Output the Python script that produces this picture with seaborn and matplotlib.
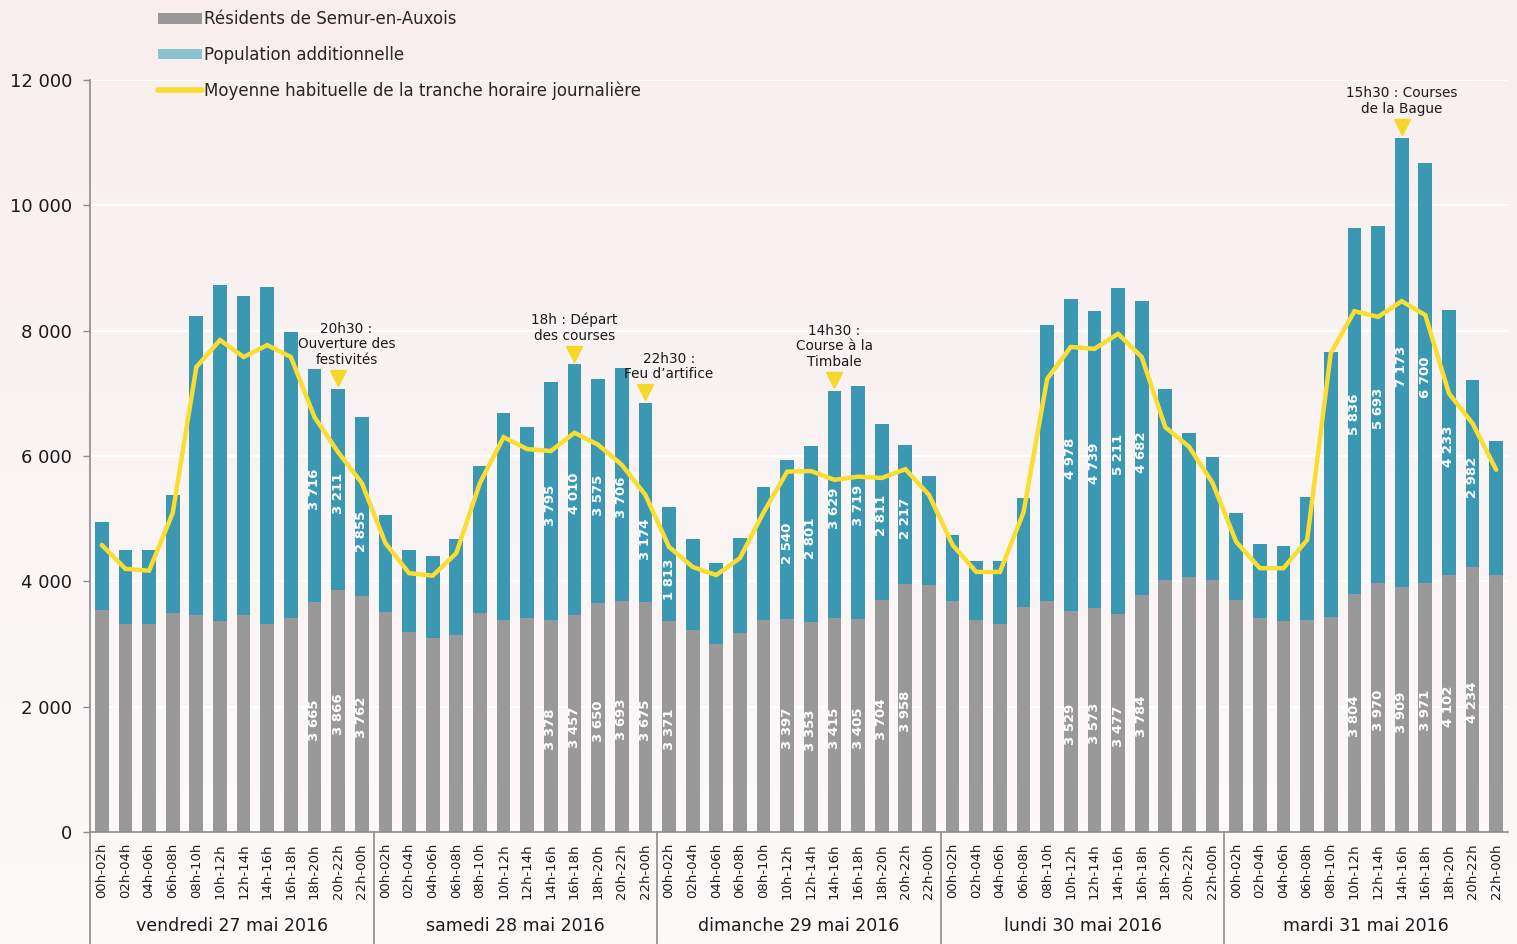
import numpy as np
import pandas as pd
import seaborn as sns
import matplotlib.pyplot as plt
import matplotlib.transforms as mtransforms
from matplotlib.patches import Patch
from matplotlib.lines import Line2D
from matplotlib.colors import LinearSegmentedColormap

# ---------------- data ----------------
days = ["vendredi 27 mai 2016", "samedi 28 mai 2016", "dimanche 29 mai 2016",
        "lundi 30 mai 2016", "mardi 31 mai 2016"]
slots = ["00h-02h", "02h-04h", "04h-06h", "06h-08h", "08h-10h", "10h-12h",
         "12h-14h", "14h-16h", "16h-18h", "18h-20h", "20h-22h", "22h-00h"]

residents_ven = [3540, 3320, 3320, 3490, 3460, 3370, 3460, 3320, 3410, 3665, 3866, 3762]
residents_sam = [3510, 3190, 3100, 3140, 3490, 3385, 3410, 3378, 3457, 3650, 3693, 3675]
residents_dim = [3371, 3220, 3000, 3170, 3380, 3397, 3353, 3415, 3405, 3704, 3958, 3940]
residents_lun = [3690, 3390, 3320, 3590, 3690, 3529, 3573, 3477, 3784, 4020, 4070, 4020]
residents_mar = [3700, 3410, 3370, 3390, 3430, 3804, 3970, 3909, 3971, 4102, 4234, 4100]

additionnel_ven = [1410, 1180, 1180, 1890, 4770, 5360, 5090, 5380, 4570, 3716, 3211, 2855]
additionnel_sam = [1550, 1310, 1300, 1535, 2350, 3300, 3055, 3795, 4010, 3575, 3706, 3174]
additionnel_dim = [1813, 1455, 1290, 1520, 2120, 2540, 2801, 3629, 3719, 2811, 2217, 1740]
additionnel_lun = [1050, 930, 1000, 1740, 4400, 4978, 4739, 5211, 4682, 3050, 2300, 1960]
additionnel_mar = [1390, 1190, 1200, 1960, 4230, 5836, 5693, 7173, 6700, 4233, 2982, 2140]

moyenne_ven = [4580, 4200, 4170, 5090, 7420, 7850, 7580, 7770, 7580, 6620, 6060, 5570]
moyenne_sam = [4610, 4130, 4090, 4450, 5570, 6300, 6110, 6080, 6370, 6180, 5860, 5380]
moyenne_dim = [4550, 4230, 4100, 4370, 5100, 5750, 5760, 5620, 5670, 5650, 5790, 5380]
moyenne_lun = [4580, 4150, 4150, 5100, 7230, 7740, 7710, 7950, 7580, 6460, 6150, 5570]
moyenne_mar = [4630, 4210, 4210, 4660, 7640, 8310, 8220, 8470, 8250, 7000, 6520, 5780]

labeled_bars = [9, 10, 11, 19, 20, 21, 22, 23, 24, 29, 30, 31, 32, 33, 34,
                41, 42, 43, 44, 53, 54, 55, 56, 57, 58]

event_bars = [10, 20, 23, 31, 55]
event_texts = ["20h30 :\nOuverture des\nfestivités",
               "18h : Départ\ndes courses",
               "22h30 :\nFeu d’artifice",
               "14h30 :\nCourse à la\nTimbale",
               "15h30 : Courses\nde la Bague"]

residents = residents_ven + residents_sam + residents_dim + residents_lun + residents_mar
additionnel = additionnel_ven + additionnel_sam + additionnel_dim + additionnel_lun + additionnel_mar
moyenne = moyenne_ven + moyenne_sam + moyenne_dim + moyenne_lun + moyenne_mar

df = pd.DataFrame({
    "idx": np.arange(len(residents)),
    "residents": residents,
    "additionnel": additionnel,
    "moyenne": moyenne,
})
df["total"] = df["residents"] + df["additionnel"]

# ---------------- style ----------------
GRAY = "#999999"
TEAL = "#3A98B3"
TEAL_LEG = "#8CC3D0"
YELLOW = "#FBDD2F"
AXIS = "#8C8C8C"

sns.set_theme(style="white")
plt.rcParams["font.family"] = ["DejaVu Sans"]

W, H = 1517, 944
fig = plt.figure(figsize=(W / 100, H / 100), dpi=100)
fig.patch.set_facecolor("#F9F2F2")

# soft vertical gradient background
bg = fig.add_axes([0, 0, 1, 1], zorder=-10)
grad = np.linspace(0, 1, 256).reshape(-1, 1)
cmap = LinearSegmentedColormap.from_list("bg", ["#F8EEEE", "#FDFAFA"])
bg.imshow(grad, aspect="auto", cmap=cmap, extent=[0, 1, 0, 1], origin="upper")
bg.axis("off")

ax = fig.add_axes([90 / W, 1 - 832 / H, (1508 - 90) / W, 752 / H])
ax.set_facecolor("none")

sns.barplot(data=df, x="idx", y="total", color=TEAL, saturation=1, width=0.58,
            errorbar=None, linewidth=0, ax=ax)
sns.barplot(data=df, x="idx", y="residents", color=GRAY, saturation=1, width=0.58,
            errorbar=None, linewidth=0, ax=ax)
sns.lineplot(x=df["idx"], y=df["moyenne"], color=YELLOW, linewidth=3.2, ax=ax,
             solid_joinstyle="miter")

ax.set_xlim(-0.5, len(df) - 0.5)
ax.set_ylim(0, 12000)
ax.set_xlabel("")
ax.set_ylabel("")

# y axis
yt = list(range(0, 12001, 2000))
ax.set_yticks(yt)
ax.set_yticklabels([f"{v:,}".replace(",", " ") for v in yt], fontsize=13, color="#1a1a1a")
ax.yaxis.grid(True, color="white", linewidth=1.6)
ax.set_axisbelow(True)

# x axis
ax.set_xticks(df["idx"])
ax.set_xticklabels(slots * len(days), rotation=90, fontsize=9.5, color="#1a1a1a")
ax.tick_params(axis="x", length=5, width=1, color=AXIS, pad=3)
ax.tick_params(axis="y", length=5, width=1, color=AXIS, pad=8, left=True)

for s in ["top", "right"]:
    ax.spines[s].set_visible(False)
for s in ["left", "bottom"]:
    ax.spines[s].set_color(AXIS)
    ax.spines[s].set_linewidth(1.2)

trans = mtransforms.blended_transform_factory(ax.transData, ax.transAxes)
n_slots = len(slots)
for d, name in enumerate(days):
    ax.text(d * n_slots + (n_slots - 1) / 2, -0.125, name, transform=trans,
            ha="center", va="center", fontsize=12.5, color="#1a1a1a")
for d in range(len(days)):
    b = d * n_slots - 0.5
    ax.plot([b, b], [0, -0.16], transform=trans, clip_on=False, color=AXIS, lw=1.2)

# bar value labels (slightly below segment centre; some nudged away from the line)
def fmt(v):
    return f"{v:,}".replace(",", " ")

label_nudge = {11: -330, 22: -140, 23: -530, 24: -190}
for i in labeled_bars:
    r = df.loc[i, "residents"]
    a = df.loc[i, "additionnel"]
    ax.text(i, r / 2 - 50, fmt(r), rotation=90, ha="center", va="center",
            color="white", fontsize=9.5, fontweight="bold", zorder=6)
    ax.text(i, r + a / 2 - 60 + label_nudge.get(i, 0), fmt(a), rotation=90,
            ha="center", va="center", color="white", fontsize=9.5,
            fontweight="bold", zorder=6)

# events
text_dx = {10: 6, 23: 17}
tri_trans = ax.transData + mtransforms.ScaledTranslation(0, 7.5 / 72, fig.dpi_scale_trans)
for i, txt in zip(event_bars, event_texts):
    tot = df.loc[i, "total"]
    ax.plot([i], [tot], marker="v", markersize=11, color="#F5D82A", linestyle="none",
            transform=tri_trans, clip_on=False, zorder=5)
    ax.annotate(txt, xy=(i, tot), xytext=(text_dx.get(i, 0), 15.5), textcoords="offset points",
                ha="center", va="bottom", fontsize=9.8, linespacing=1.15, color="#1a1a1a")

# legend
handles = [Patch(facecolor=GRAY, edgecolor="none"),
           Patch(facecolor=TEAL_LEG, edgecolor="none"),
           Line2D([0], [0], color=YELLOW, lw=4)]
labels = ["Résidents de Semur-en-Auxois", "Population additionnelle",
          "Moyenne habituelle de la tranche horaire journalière"]
fig.legend(handles, labels, loc="upper left", bbox_to_anchor=(155 / W, 1 - 7 / H),
           frameon=False, fontsize=12, handlelength=2.6, handleheight=0.6,
           handletextpad=0.15, labelspacing=1.05, borderaxespad=0, borderpad=0.2)

fig.savefig("out.png", dpi=100, facecolor=fig.get_facecolor())
